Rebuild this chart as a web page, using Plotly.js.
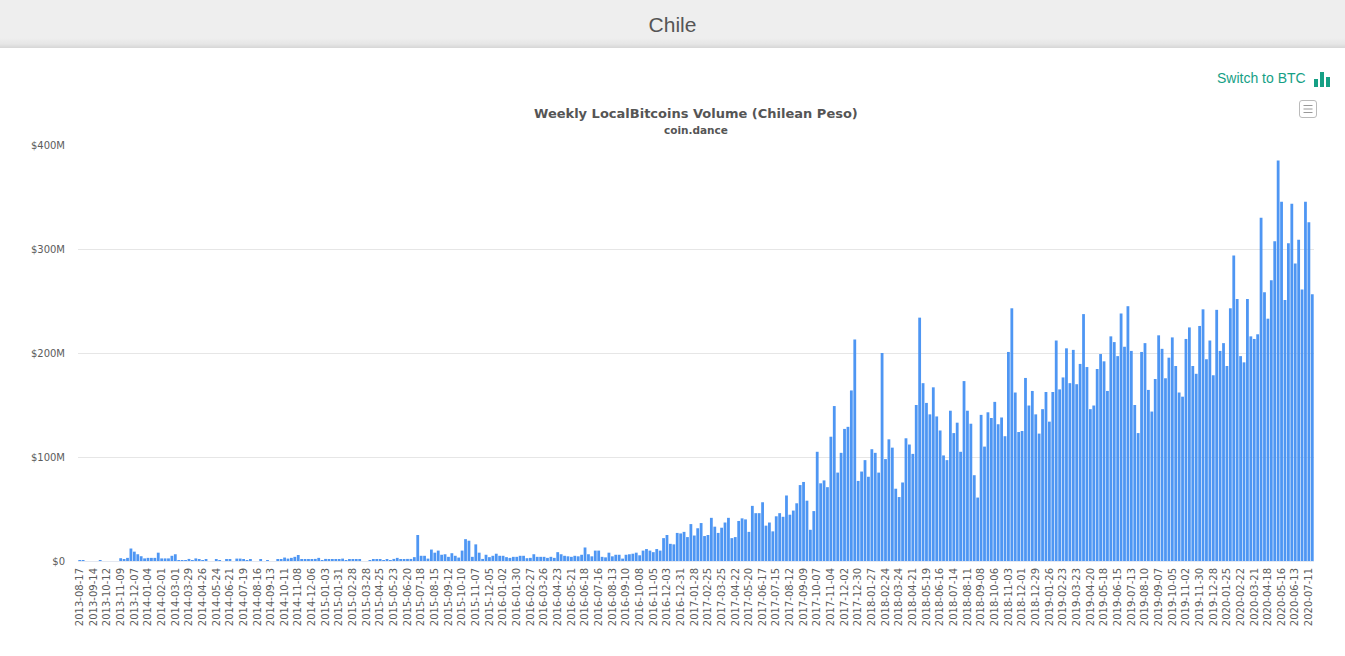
<!DOCTYPE html>
<html>
<head>
<meta charset="utf-8">
<script src="https://cdn.plot.ly/plotly-3.0.1.min.js"></script>
<style>
html,body{margin:0;padding:0;background:#fff;width:1345px;height:656px;overflow:hidden;font-family:"Liberation Sans",Arial,sans-serif}
#chart{position:absolute;left:0;top:0;width:1345px;height:656px}
#head{position:absolute;left:0;top:0;width:1345px;height:48px;background:linear-gradient(to bottom,#eeeeee 0,#eeeeee 38px,#e6e6e6 44px,#d6d6d6 48px);text-align:center;line-height:50px;font-size:21px;color:#555;z-index:2}
#sw{position:absolute;left:1217px;top:69px;font-size:14px;line-height:18px;color:#16a085;z-index:2;white-space:nowrap}
#ic{position:absolute;left:1313px;top:71px;z-index:2}
#mn{position:absolute;left:1299px;top:100px;z-index:2}
</style>
</head>
<body>
<div id="chart"></div>
<div id="head">Chile</div>
<div id="sw">Switch to BTC</div>
<svg id="ic" width="18" height="18"><rect x="1" y="8" width="4" height="8" fill="#16a085"/><rect x="7" y="1" width="4" height="15" fill="#16a085"/><rect x="13" y="6" width="4" height="10" fill="#16a085"/></svg>
<svg id="mn" width="19" height="19"><rect x="0.5" y="0.5" width="17" height="17" rx="2.5" fill="#fff" stroke="#bbb"/><path d="M4.5 5.5h9M4.5 9h9M4.5 12.5h9" stroke="#999" stroke-width="1.2"/></svg>
<script>
var seriesA = [.5,.5,0,0,0,0,.4,0,0,0,0,0,2.7,1.8,3,12,9,6.5,4.6,2.5,3,3,3,8,2.5,2.5,2.5,5,6.5,.5,.5,.5,2,.6,2.5,1.6,.5,1.6,0,0,1.5,.8,0,1.4,1.4,0,2.3,2.3,1.3,.8,1.5,0,0,1,0,.8,0,0,1.5,1.2,3.3,2.3,3,4,5.8,1.3,1.3,1,1.4,2,3,.3,2,1.3,1,1,1,2.3,.6,1.3,1,1,1.3,0,0,.5,1,1.3,1.3,.6,1.4,.5,2,3,1.3,1.3,2,2,3.7,25,5,5,2.3,11,8,10,6,6.5,4,7.5,5,3.3,10,21,19.5,4];
var seriesB = [16,8,2,6,3.7,5,7,5,5,3.7,3,4,4,5,5,2.7,3,6.5,4,4,4,3,4,3,8.5,6.5,5,4.5,4,5,4.5,6,13,6.5,4.5,10,10,4,3.5,8,4.5,6,6,2.3,6,6.5,7,8,5.5,10,11.5,10,8.5,11.5,10,22,25,16.5,16,27,26.5,28,23,35.5,24.5,31.5,36.5,24,25,41.5,33,27,32,37,41.5,22,23,38.5,41,40,28,53,46,46,56.5,34,37,28.5,43,46,42.5,63,44.5,48.5,55.5];
var seriesC = [73,76,58,30,48,105,74.7,77.5,71,119.5,149,85,104,127,129,164,213,77,86,97,81,107.5,104,85,200,98,117,109,69.5,61.5,75.5,118,112,103,150,234,171,152,141,167,139,125.5,101.5,97,144.5,123,133,105,173,144.5,132,82.5,61,140.5,110,143,137.5,153,131.5,138,120,201,243,162,124,125,176,149.5,163.5,141,122.5,146,162.5,134,162.5,212,165,176.5,204.5,171];
var seriesD = [203,170,189.5,237.4,186.5,146,149.5,184.6,199,192,163.5,216,210.5,197,238,206,245,202,150,123,201,209.5,164.5,143.7,175,217,204,175.7,195.5,215,187.5,162,158,213.5,224.6,187.5,180,226,242,194,212,178.6,241.5,202,209.5,187.5,243,293.7,252,197,191,252,216,213.5,218,330,258.5,233,270,307.5,385,345.5,251,305.5,343.5,286,309,261,345.5,325.7,256.5];
var volumes = seriesA.concat(seriesB, seriesC, seriesD);

var tickLabels = ["2013-08-17","2013-09-14","2013-10-12","2013-11-09","2013-12-07","2014-01-04","2014-02-01","2014-03-01","2014-03-29","2014-04-26","2014-05-24","2014-06-21","2014-07-19","2014-08-16","2014-09-13","2014-10-11","2014-11-08","2014-12-06","2015-01-03","2015-01-31","2015-02-28","2015-03-28","2015-04-25","2015-05-23","2015-06-20","2015-07-18","2015-08-15","2015-09-12","2015-10-10","2015-11-07","2015-12-05","2016-01-02","2016-01-30","2016-02-27","2016-03-26","2016-04-23","2016-05-21","2016-06-18","2016-07-16","2016-08-13","2016-09-10","2016-10-08","2016-11-05","2016-12-03","2016-12-31","2017-01-28","2017-02-25","2017-03-25","2017-04-22","2017-05-20","2017-06-17","2017-07-15","2017-08-12","2017-09-09","2017-10-07","2017-11-04","2017-12-02","2017-12-30","2018-01-27","2018-02-24","2018-03-24","2018-04-21","2018-05-19","2018-06-16","2018-07-14","2018-08-11","2018-09-08","2018-10-06","2018-11-03","2018-12-01","2018-12-29","2019-01-26","2019-02-23","2019-03-23","2019-04-20","2019-05-18","2019-06-15","2019-07-13","2019-08-10","2019-09-07","2019-10-05","2019-11-02","2019-11-30","2019-12-28","2020-01-25","2020-02-22","2020-03-21","2020-04-18","2020-05-16","2020-06-13","2020-07-11"];
var yTickVals = [0,100,200,300,400];
var yTickText = ["$0","$100M","$200M","$300M","$400M"];

// weekly calendar labels (Saturdays) for the category axis
var weeks = [];
for (var i = 0; i < volumes.length; i++) {
  weeks.push(new Date(Date.UTC(2013,7,17) + i*7*86400000).toISOString().slice(0,10));
}

var font = '"DejaVu Sans", sans-serif';
Plotly.newPlot('chart', [{
  type:'bar', x:weeks, y:volumes,
  marker:{color:'#4590f2', opacity:0.95, line:{width:0}},
  hoverinfo:'x+y'
}], {
  width:1345, height:656,
  margin:{l:78, r:31, t:144.5, b:94.5, pad:0},
  paper_bgcolor:'rgba(0,0,0,0)', plot_bgcolor:'rgba(0,0,0,0)',
  bargap:0.18, showlegend:false,
  xaxis:{type:'category', categoryorder:'array', categoryarray:weeks, range:[-0.5, volumes.length-0.5],
    tickmode:'array', tickvals:tickLabels, ticktext:tickLabels, tickangle:-90,
    tickfont:{family:font, size:10, color:'#5c5c5c'}, ticks:'', ticklabelstandoff:2,
    showgrid:false, zeroline:false, showline:true, linecolor:'#e4e8f0', linewidth:1, automargin:false},
  yaxis:{range:[0,400], tickmode:'array', tickvals:yTickVals, ticktext:yTickText,
    tickfont:{family:font, size:10, color:'#5c5c5c'}, ticks:'', ticklabelstandoff:12,
    showgrid:true, gridcolor:'#e6e6e6', gridwidth:1, zeroline:false, showline:false, automargin:false},
  annotations:[
    {xref:'paper', yref:'paper', x:0.5, y:1, xanchor:'center', yanchor:'bottom', yshift:22, showarrow:false,
     text:'<b>Weekly LocalBitcoins Volume (Chilean Peso)</b>', font:{family:font, size:13, color:'#555'}},
    {xref:'paper', yref:'paper', x:0.5, y:1, xanchor:'center', yanchor:'bottom', yshift:7, showarrow:false,
     text:'<b>coin.dance</b>', font:{family:font, size:10.5, color:'#555'}}
  ]
}, {displayModeBar:false, responsive:false});
</script>
</body>
</html>
